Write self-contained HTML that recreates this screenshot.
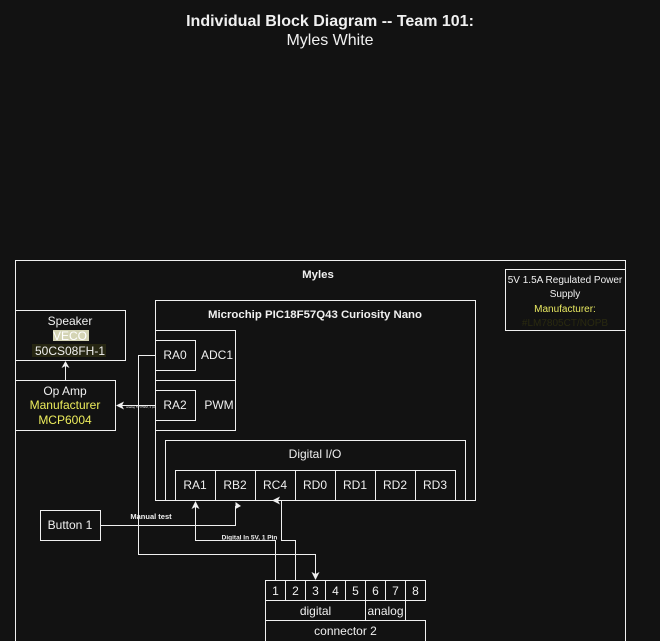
<!DOCTYPE html>
<html><head><meta charset="utf-8"><style>
html,body{margin:0;padding:0;background:#121212;}
svg{display:block;}
text{font-family:"Liberation Sans",Arial,sans-serif;fill:#f0f0f0;}
</style></head><body>
<svg width="660" height="641" viewBox="0 0 660 641" xmlns="http://www.w3.org/2000/svg">
<rect width="660" height="641" fill="#121212"/>
<text x="330" y="26" text-anchor="middle" font-size="16" font-weight="bold">Individual Block Diagram -- Team 101:</text>
<text x="330" y="45" text-anchor="middle" font-size="16">Myles White</text>

<g fill="none" stroke="#f0f0f0" stroke-width="1">
<rect x="15.5" y="260.5" width="610" height="400"/>
<rect x="505.5" y="269.5" width="120" height="61"/>
<rect x="15.5" y="310.5" width="110" height="50"/>
<rect x="15.5" y="380.5" width="100" height="50"/>
<rect x="155.5" y="300.5" width="320" height="200"/>
<rect x="155.5" y="330.5" width="80" height="50"/>
<rect x="155.5" y="340.5" width="40" height="30"/>
<rect x="155.5" y="380.5" width="80" height="50"/>
<rect x="155.5" y="390.5" width="40" height="30"/>
<rect x="165.5" y="440.5" width="300" height="60"/>
<rect x="175.5" y="470.5" width="40" height="30"/>
<rect x="215.5" y="470.5" width="40" height="30"/>
<rect x="255.5" y="470.5" width="40" height="30"/>
<rect x="295.5" y="470.5" width="40" height="30"/>
<rect x="335.5" y="470.5" width="40" height="30"/>
<rect x="375.5" y="470.5" width="40" height="30"/>
<rect x="415.5" y="470.5" width="40" height="30"/>
<rect x="40.5" y="510.5" width="60" height="30"/>
<rect x="265.5" y="580.5" width="20" height="20"/>
<rect x="285.5" y="580.5" width="20" height="20"/>
<rect x="305.5" y="580.5" width="20" height="20"/>
<rect x="325.5" y="580.5" width="20" height="20"/>
<rect x="345.5" y="580.5" width="20" height="20"/>
<rect x="365.5" y="580.5" width="20" height="20"/>
<rect x="385.5" y="580.5" width="20" height="20"/>
<rect x="405.5" y="580.5" width="20" height="20"/>
<rect x="265.5" y="600.5" width="100" height="20"/>
<rect x="365.5" y="600.5" width="40" height="20"/>
<rect x="265.5" y="620.5" width="160" height="40"/>
<!-- connectors -->
<polyline points="155.5,355.5 138.5,355.5 138.5,554.5 315.5,554.5 315.5,574"/>
<polyline points="100.5,525.5 235.5,525.5 235.5,506"/>
<polyline points="275.5,580.5 275.5,540.5 195.5,540.5 195.5,507"/>
<polyline points="295.5,580.5 295.5,540.5 281.5,540.5 281.5,500.5 278,500.5"/>
<line x1="155.5" y1="405.5" x2="122" y2="405.5"/>
<line x1="65.5" y1="380.5" x2="65.5" y2="366"/>
</g>
<g fill="#f0f0f0" stroke="none">
<polygon points="315.5,580 311.5,572 315.5,574 319.5,572"/>
<polygon points="195.5,501 191.5,509 195.5,507 199.5,509"/>
<polygon points="235.5,502 235.5,509 241,506"/>
<polygon points="272,500.5 280,496.5 278,500.5 280,504.5"/>
<polygon points="116,405.5 124,401.5 122,405.5 124,409.5"/>
<polygon points="65.5,361 61.5,368 65.5,366 69.5,368"/>
</g>

<text x="318" y="278" text-anchor="middle" font-size="11.4" font-weight="bold">Myles</text>
<text x="565" y="283" text-anchor="middle" font-size="10">5V 1.5A Regulated Power</text>
<text x="565" y="297" text-anchor="middle" font-size="10">Supply</text>
<text x="565" y="312" text-anchor="middle" font-size="10" style="fill:#e8e860">Manufacturer:</text>
<text x="565" y="326" text-anchor="middle" font-size="10" style="fill:#2a2a10">#LM7805CT/NOPB</text>

<text x="70" y="325" text-anchor="middle" font-size="12">Speaker</text>
<rect x="53" y="330" width="36" height="11" fill="#d4d4b4"/>
<text x="70" y="340" text-anchor="middle" font-size="12" style="fill:#ffffff">VECO</text>
<rect x="32" y="344" width="74" height="13" fill="#262612"/>
<text x="70" y="355" text-anchor="middle" font-size="12">50CS08FH-1</text>

<text x="65" y="395" text-anchor="middle" font-size="12">Op Amp</text>
<text x="65" y="409" text-anchor="middle" font-size="12" style="fill:#ecec5c">Manufacturer</text>
<text x="65" y="424" text-anchor="middle" font-size="12" style="fill:#ecec5c">MCP6004</text>
<text x="141" y="408" text-anchor="middle" font-size="3">analog 5V PWM, 1 pin</text>

<text x="315" y="318" text-anchor="middle" font-size="11.4" font-weight="bold">Microchip PIC18F57Q43 Curiosity Nano</text>
<text x="175" y="359" text-anchor="middle" font-size="12">RA0</text>
<text x="217" y="359" text-anchor="middle" font-size="12">ADC1</text>
<text x="175" y="409" text-anchor="middle" font-size="12">RA2</text>
<text x="219" y="409" text-anchor="middle" font-size="12">PWM</text>
<text x="315" y="458" text-anchor="middle" font-size="12">Digital I/O</text>
<text x="195" y="489" text-anchor="middle" font-size="12">RA1</text>
<text x="235" y="489" text-anchor="middle" font-size="12">RB2</text>
<text x="275" y="489" text-anchor="middle" font-size="12">RC4</text>
<text x="315" y="489" text-anchor="middle" font-size="12">RD0</text>
<text x="355" y="489" text-anchor="middle" font-size="12">RD1</text>
<text x="395" y="489" text-anchor="middle" font-size="12">RD2</text>
<text x="435" y="489" text-anchor="middle" font-size="12">RD3</text>

<text x="70" y="529" text-anchor="middle" font-size="12">Button 1</text>
<text x="151" y="519" text-anchor="middle" font-size="7.5" font-weight="bold">Manual test</text>
<text x="249.5" y="539.5" text-anchor="middle" font-size="6.5" font-weight="bold">Digital In 5V, 1 Pin</text>

<text x="275.5" y="595" text-anchor="middle" font-size="12">1</text>
<text x="295.5" y="595" text-anchor="middle" font-size="12">2</text>
<text x="315.5" y="595" text-anchor="middle" font-size="12">3</text>
<text x="335.5" y="595" text-anchor="middle" font-size="12">4</text>
<text x="355.5" y="595" text-anchor="middle" font-size="12">5</text>
<text x="375.5" y="595" text-anchor="middle" font-size="12">6</text>
<text x="395.5" y="595" text-anchor="middle" font-size="12">7</text>
<text x="415.5" y="595" text-anchor="middle" font-size="12">8</text>
<text x="315.5" y="615" text-anchor="middle" font-size="12">digital</text>
<text x="385.5" y="615" text-anchor="middle" font-size="12">analog</text>
<text x="345.5" y="635" text-anchor="middle" font-size="12">connector 2</text>
</svg>
</body></html>
